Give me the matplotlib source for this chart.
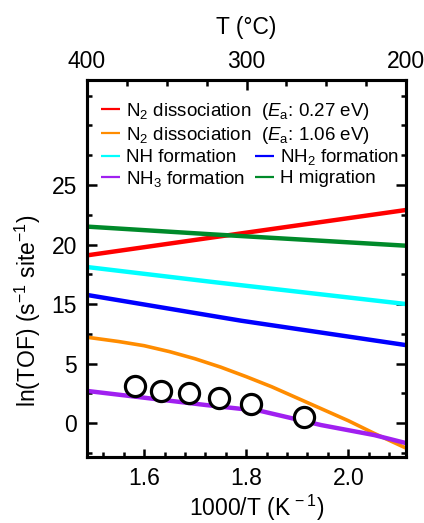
import numpy as np
import matplotlib
matplotlib.use('Agg')
import matplotlib.pyplot as plt
from matplotlib.ticker import MultipleLocator

plt.rcParams['font.family'] = ['Liberation Sans', 'DejaVu Sans']
plt.rcParams['mathtext.fontset'] = 'custom'
plt.rcParams['mathtext.rm'] = 'Liberation Sans'
plt.rcParams['mathtext.it'] = 'Liberation Sans:italic'
plt.rcParams['mathtext.bf'] = 'Liberation Sans:bold'

# y values are in plot units; the printed tick labels skip 10 (0,5,15,20,25 equally spaced)
ytick_pos = [5, 10, 15, 20, 25]
ytick_lab = ['0', '5', '15', '20', '25']

x_red = [1.49, 1.735, 2.113]
y_red = [19.1, 20.6, 22.9]
x_green = [1.49, 1.735, 2.113]
y_green = [21.5, 20.85, 19.9]
x_cyan = [1.49, 1.735, 2.113]
y_cyan = [18.1, 16.85, 15.0]
x_blue = [1.49, 1.79, 2.113]
y_blue = [15.75, 13.6, 11.55]
x_orange = [1.49, 1.55, 1.6, 1.65, 1.7, 1.75, 1.8, 1.85, 1.9, 1.95, 2.0, 2.05, 2.113]
y_orange = [12.2, 11.85, 11.5, 11.0, 10.4, 9.7, 8.9, 8.05, 7.1, 6.15, 5.2, 4.15, 2.9]
x_purple = [1.49, 1.722, 1.829, 1.947, 2.051, 2.113]
y_purple = [7.69, 6.51, 6.01, 4.83, 3.99, 3.32]
x_exp = [1.582, 1.633, 1.688, 1.747, 1.810, 1.914]
y_exp = [8.11, 7.69, 7.52, 7.10, 6.60, 5.50]

lab_red = r'N$_2$ dissociation  ($E_\mathrm{a}$: 0.27 eV)'
lab_orange = r'N$_2$ dissociation  ($E_\mathrm{a}$: 1.06 eV)'
lab_cyan = 'NH formation'
lab_blue = r'NH$_2$ formation'
lab_purple = r'NH$_3$ formation'
lab_green = 'H migration'

fig = plt.figure(figsize=(4.24, 5.23), dpi=100)
ax = fig.add_axes([0.205, 0.126, 0.753, 0.721])

lw = 3.2
l_red, = ax.plot(x_red, y_red, color='#ff0000', lw=lw, label=lab_red, solid_capstyle='butt')
l_orange, = ax.plot(x_orange, y_orange, color='#ff8c00', lw=2.6, label=lab_orange,
                    solid_capstyle='butt', solid_joinstyle='round')
l_cyan, = ax.plot(x_cyan, y_cyan, color='#00ffff', lw=lw, label=lab_cyan, solid_capstyle='butt')
l_blue, = ax.plot(x_blue, y_blue, color='#0000ff', lw=lw, label=lab_blue, solid_capstyle='butt')
l_purple, = ax.plot(x_purple, y_purple, color='#a020f0', lw=lw, label=lab_purple, solid_capstyle='butt')
l_green, = ax.plot(x_green, y_green, color='#008a2a', lw=lw, label=lab_green, solid_capstyle='butt')
ax.plot(x_exp, y_exp, 'o', ms=14.5, mfc='white', mec='black', mew=2.3, zorder=5)

ax.set_xlim(1.488, 2.1135)
ax.set_ylim(2.14, 33.82)
ax.set_yticks(ytick_pos, ytick_lab)
ax.yaxis.set_minor_locator(MultipleLocator(2.5))
ax.xaxis.set_minor_locator(MultipleLocator(0.04))
ax.set_xticks([1.6, 1.8, 2.0], ['1.6', '1.8', '2.0'])

ax.tick_params(which='both', direction='in', right=True, width=1.8, labelsize=16.5)
ax.tick_params(axis='x', which='major', length=6, pad=7)
ax.tick_params(axis='x', which='minor', length=3.5)
ax.tick_params(axis='y', which='major', length=7, pad=7)
ax.tick_params(axis='y', which='minor', length=3.5)

ax2 = ax.twiny()
ax2.set_xlim(400, 200)
ax2.set_xticks([400, 300, 200])
ax2.xaxis.set_minor_locator(MultipleLocator(25))
ax2.tick_params(which='both', direction='in', width=1.8, labelsize=16.5, pad=5)
ax2.tick_params(which='major', length=7)
ax2.tick_params(which='minor', length=4)

for a in (ax, ax2):
    for s in a.spines.values():
        s.set_linewidth(2.2)

ax.set_xlabel(r'1000/T (K$^{\,-1}$)', fontsize=16.5)
ax.xaxis.label.set_va('center')
ax.xaxis.set_label_coords(0.533, -0.135)
ax.set_ylabel(r'ln(TOF) (s$^{-1}$ site$^{-1}$)', fontsize=16.5)
ax.yaxis.label.set_va('center')
ax.yaxis.set_label_coords(-0.185, 0.387)
ax2.set_xlabel('T (°C)', fontsize=16.5)
ax2.xaxis.label.set_va('center')
ax2.xaxis.set_label_coords(0.50, 1.138)

leg1 = ax.legend(handles=[l_red, l_orange], loc='upper left', bbox_to_anchor=(0.045, 0.945),
                 frameon=False, fontsize=13.5, handlelength=1.0, handletextpad=0.3,
                 labelspacing=0.15, borderpad=0, borderaxespad=0)
for h in leg1.get_lines():
    h.set_linewidth(1.6)
ax.add_artist(leg1)
leg2 = ax.legend(handles=[l_cyan, l_purple, l_blue, l_green], ncol=2, loc='upper left',
                 bbox_to_anchor=(0.045, 0.822), frameon=False, fontsize=13.5, handlelength=1.0,
                 handletextpad=0.3, labelspacing=0.15, columnspacing=0.55,
                 borderpad=0, borderaxespad=0)
for h in leg2.get_lines():
    h.set_linewidth(1.6)

fig.savefig('out.png', dpi=100)
